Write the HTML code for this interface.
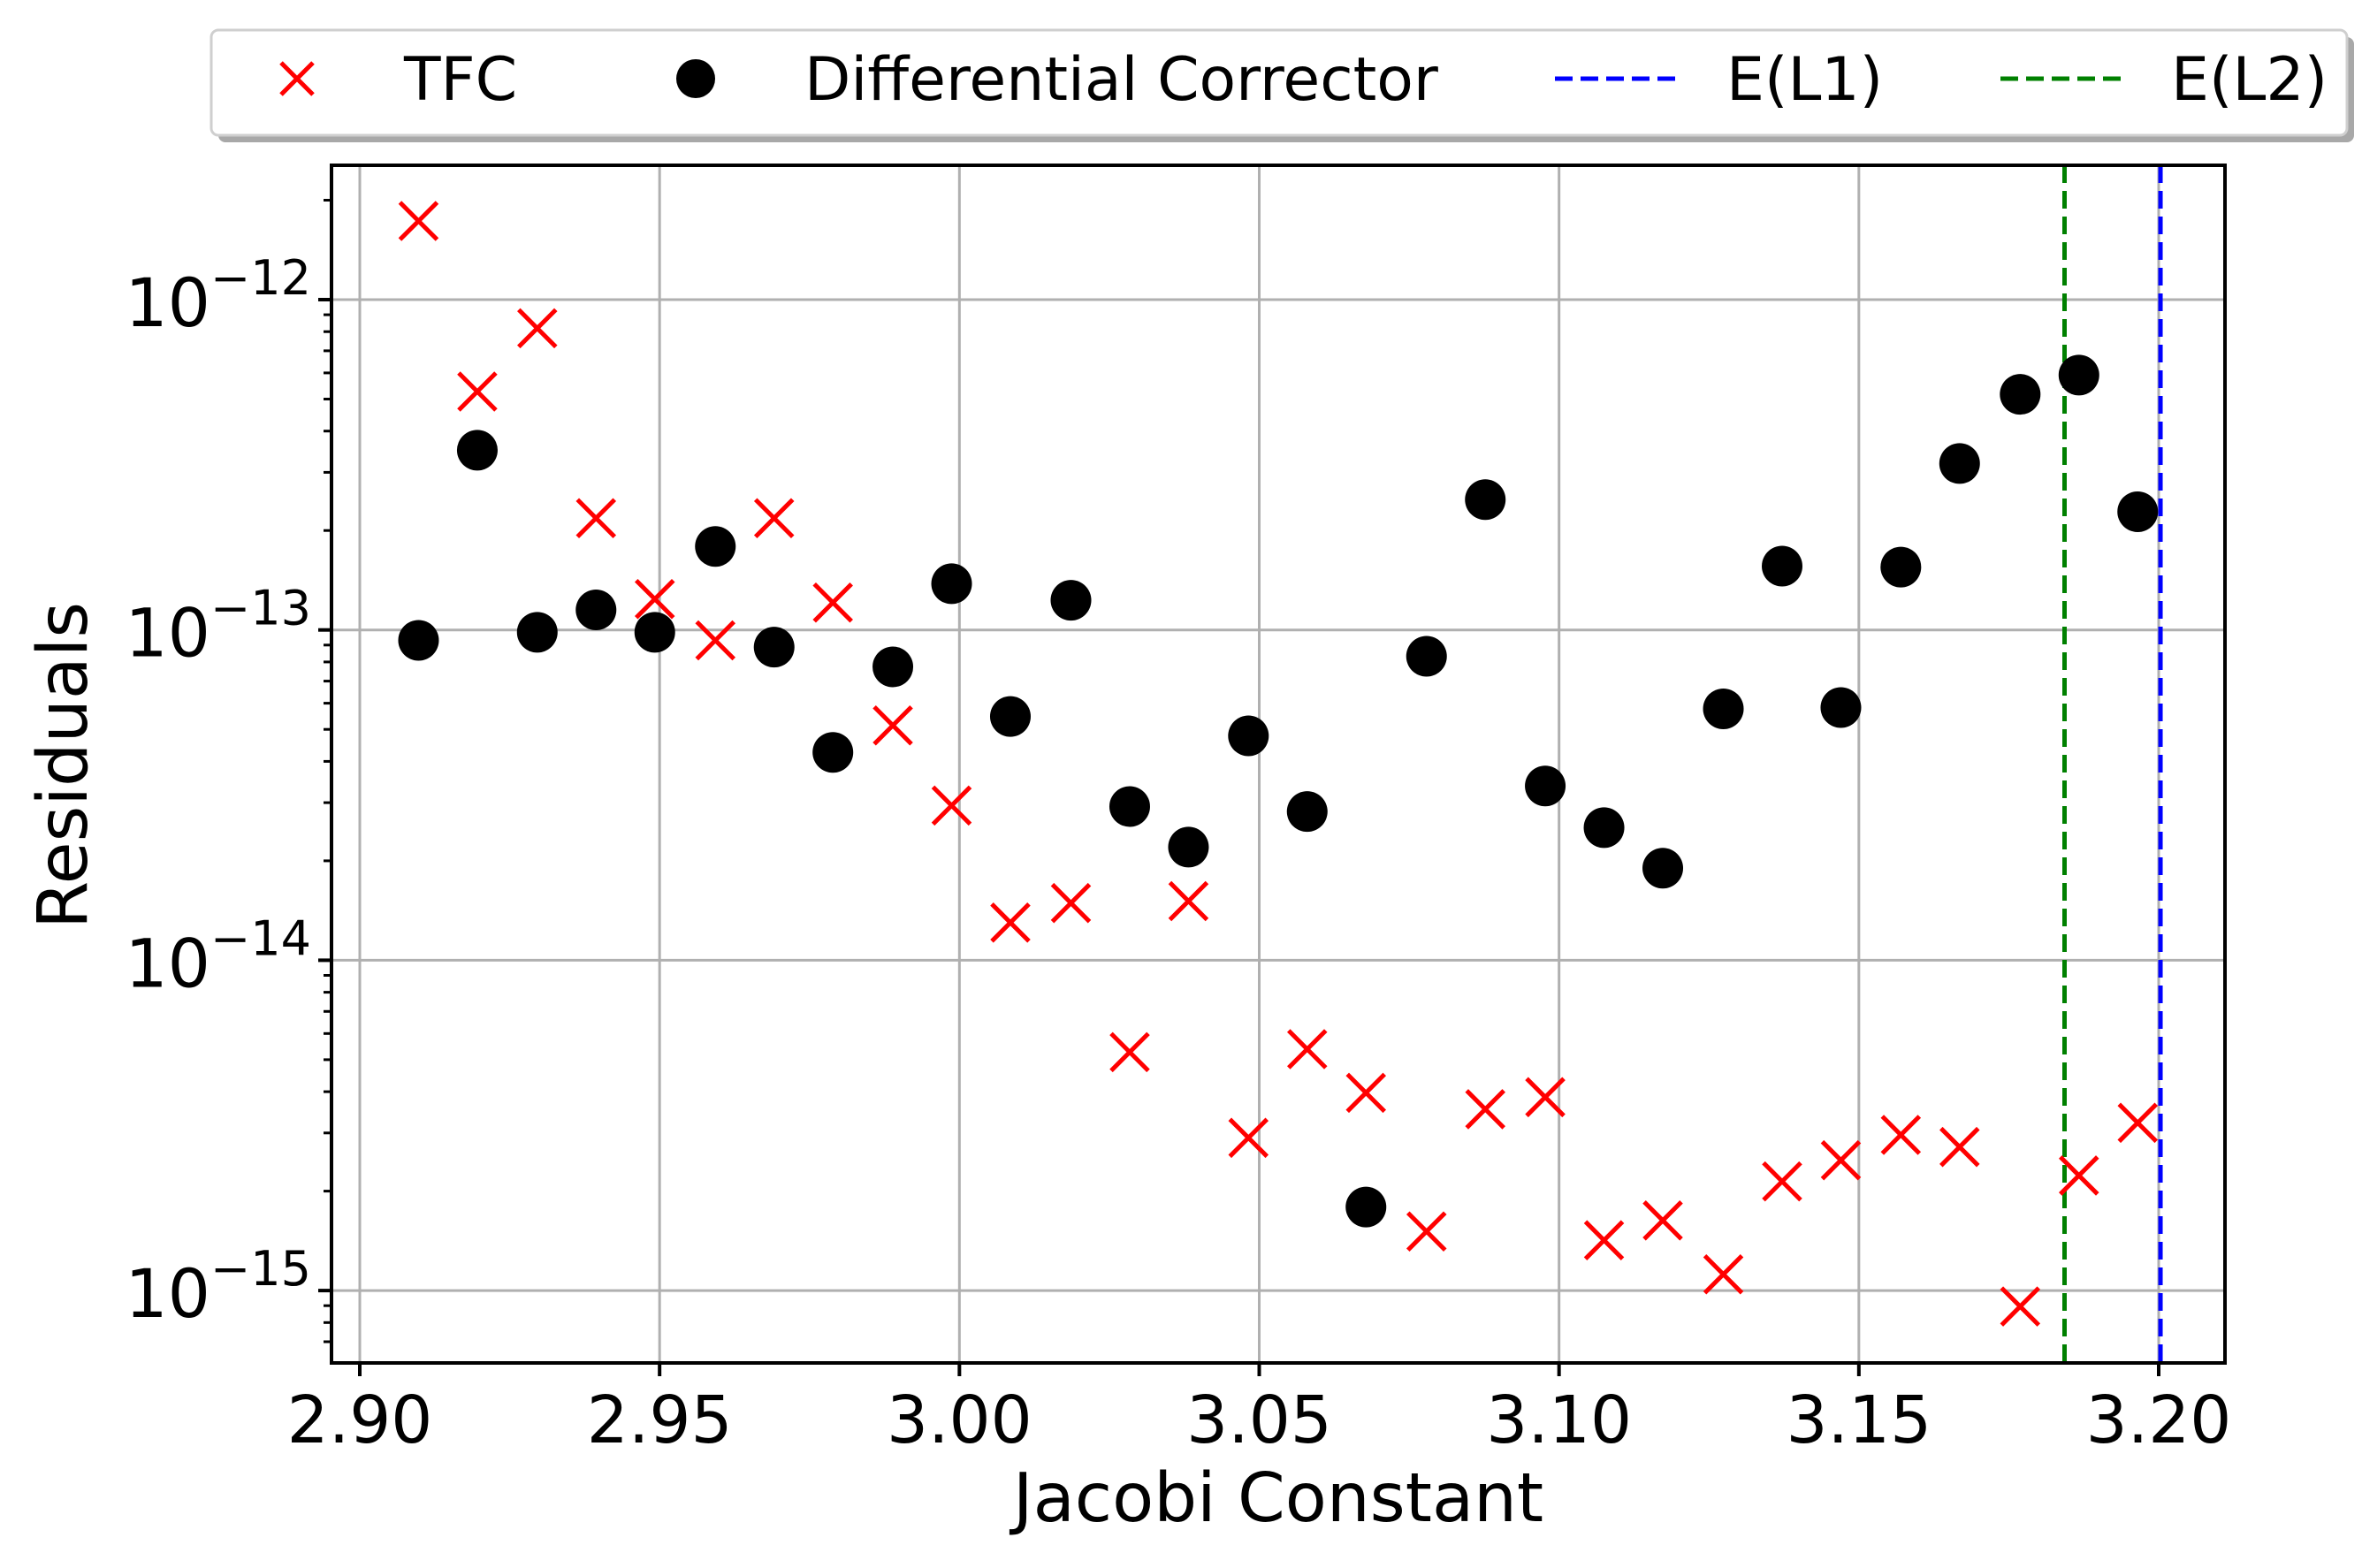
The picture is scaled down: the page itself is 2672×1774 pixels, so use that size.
<!DOCTYPE html>
<html><head><meta charset="utf-8"><style>
html,body{margin:0;padding:0;background:#fff;}
svg{display:block;font-family:"DejaVu Sans","Liberation Sans",sans-serif;}
</style></head><body>
<svg id="chart" width="2672" height="1774" viewBox="0 0 2672 1774" xmlns="http://www.w3.org/2000/svg">
<g id="grid"></g>
<g id="lines"></g>
<g id="marks"></g>
<rect x="375" y="187" width="2142" height="1355" fill="none" stroke="#000" stroke-width="4"/>
<g id="ticks"></g>
<text x="1446" y="1721" font-size="77" text-anchor="middle">Jacobi Constant</text>
<text transform="translate(98,866) rotate(-90)" font-size="78" text-anchor="middle">Residuals</text>
<g>
<rect x="247" y="42" width="2416" height="119" rx="8" fill="#a8a8a8"/>
<rect x="239" y="34" width="2416" height="119" rx="8" fill="#fff" stroke="#cfcfcf" stroke-width="3"/>
<g>
<path d="M318 71 L354 107 M354 71 L318 107" stroke="#f00" stroke-width="5"/>
<text x="457" y="113" font-size="68">TFC</text></g>
<g>
<circle cx="787" cy="89" r="22" fill="#000"/>
<text x="910" y="113" font-size="68">Differential Corrector</text></g>
<g>
<line x1="1759" y1="89" x2="1895" y2="89" stroke="#00f" stroke-width="5" stroke-dasharray="20,9"/>
<text x="1953" y="113" font-size="68">E(L1)</text></g>
<g>
<line x1="2263" y1="89" x2="2399" y2="89" stroke="#008000" stroke-width="5" stroke-dasharray="20,9"/>
<text x="2456" y="113" font-size="68">E(L2)</text></g>
</g>
</svg>
<script>
const xPos = [2.9098,2.9196,2.9296,2.9394,2.9492,2.9593,2.9691,2.9789,2.9889,2.9987,3.0085,3.0186,3.0284,3.0382,3.0482,3.0580,3.0678,3.0779,3.0877,3.0977,3.1075,3.1173,3.1274,3.1372,3.1470,3.1570,3.1668,3.1769,3.1867,3.1965];
const tfcValues = [1.73e-12,5.27e-13,8.19e-13,2.18e-13,1.24e-13,9.3e-14,2.18e-13,1.21e-13,5.14e-14,2.94e-14,1.30e-14,1.49e-14,5.27e-15,1.51e-14,2.90e-15,5.38e-15,3.97e-15,1.51e-15,3.54e-15,3.85e-15,1.42e-15,1.63e-15,1.12e-15,2.14e-15,2.48e-15,2.96e-15,2.72e-15,8.95e-16,2.23e-15,3.22e-15];
const dcValues = [9.3e-14,3.50e-13,9.84e-14,1.15e-13,9.84e-14,1.79e-13,8.87e-14,4.26e-14,7.73e-14,1.38e-13,5.47e-14,1.23e-13,2.92e-14,2.20e-14,4.78e-14,2.82e-14,1.79e-15,8.32e-14,2.48e-13,3.37e-14,2.52e-14,1.90e-14,5.77e-14,1.56e-13,5.82e-14,1.55e-13,3.19e-13,5.17e-13,5.91e-13,2.28e-13];
const energyL1 = 3.2003;
const energyL2 = 3.1843;
const xTicks = [2.90,2.95,3.00,3.05,3.10,3.15,3.20];
const xTickLabels = ["2.90","2.95","3.00","3.05","3.10","3.15","3.20"];
const yTickExps = [-12,-13,-14,-15];

const NS="http://www.w3.org/2000/svg";
const L=375,R=2517,T=187,B=1542;
function sx(v){return 407+(v-2.90)*(2442-407)/0.30;}
function sy(v){return 339+(-12-Math.log10(v))*373.7;}
function mk(tag,attrs,parent){const e=document.createElementNS(NS,tag);for(const k in attrs)e.setAttribute(k,attrs[k]);parent.appendChild(e);return e;}
const grid=document.getElementById('grid'),ticks=document.getElementById('ticks'),lines=document.getElementById('lines'),marks=document.getElementById('marks');

xTicks.forEach((t,i)=>{
  const x=sx(t);
  const g=mk('line',{x1:x,y1:T,x2:x,y2:B,stroke:'#b0b0b0','stroke-width':3},grid);
  
  
  const tk=mk('line',{x1:x,y1:B,x2:x,y2:B+15,stroke:'#000','stroke-width':4},ticks);
  
  
  const lb=mk('text',{x:x,y:1632,'font-size':74,'text-anchor':'middle'},ticks);
  lb.textContent=xTickLabels[i];
  
  
});
yTickExps.forEach(ex=>{
  const y=sy(Math.pow(10,ex));
  const g=mk('line',{x1:L,y1:y,x2:R,y2:y,stroke:'#b0b0b0','stroke-width':3},grid);
  
  
  const tk=mk('line',{x1:L-15,y1:y,x2:L,y2:y,stroke:'#000','stroke-width':4},ticks);
  
  
  const lb=mk('text',{x:352,y:y+30,'font-size':76,'text-anchor':'end'},ticks);
  
  
  const b=document.createElementNS(NS,'tspan');b.textContent='10';lb.appendChild(b);
  const s=document.createElementNS(NS,'tspan');s.setAttribute('dy','-36');s.setAttribute('font-size','54');s.textContent='\u2212'+(-ex);lb.appendChild(s);
});
for(let ex=-16;ex<=-11;ex++){for(let m=2;m<=9;m++){const v=m*Math.pow(10,ex);const y=sy(v);if(y<T||y>B)continue;
  const tk=mk('line',{x1:L-9,y1:y,x2:L,y2:y,stroke:'#000','stroke-width':3},ticks);
  
  }}

const l2=mk('line',{x1:sx(energyL2),y1:T,x2:sx(energyL2),y2:B,stroke:'#008000','stroke-width':5,'stroke-dasharray':'20,9'},lines);


const l1=mk('line',{x1:sx(energyL1),y1:T,x2:sx(energyL1),y2:B,stroke:'#00f','stroke-width':5,'stroke-dasharray':'20,9'},lines);



dcValues.forEach((v,i)=>{
  const c=mk('circle',{cx:sx(xPos[i]),cy:sy(v),r:23,fill:'#000'},marks);
  
  
});
tfcValues.forEach((v,i)=>{
  const x=sx(xPos[i]),y=sy(v),h=21;
  const p=mk('path',{d:`M${x-h} ${y-h} L${x+h} ${y+h} M${x+h} ${y-h} L${x-h} ${y+h}`,stroke:'#f00','stroke-width':5,fill:'none'},marks);
  
  
});
</script>
</body></html>
